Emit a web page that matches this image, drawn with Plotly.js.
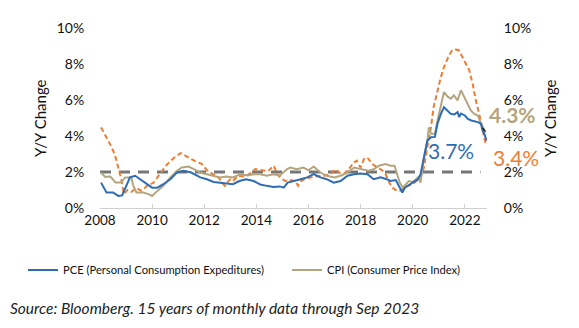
<!DOCTYPE html>
<html>
<head>
<meta charset="utf-8">
<script src="https://cdn.plot.ly/plotly-3.0.1.min.js"></script>
<style>html,body{margin:0;padding:0;background:#fff;}#chart{width:579px;height:328px;}</style>
</head>
<body>
<div id="chart"></div>
<script>
// PCE (blue)
var pceX = [2008.04,2008.25,2008.5,2008.7,2008.85,2008.97,2009.15,2009.35,2009.54,2009.8,2010.0,2010.2,2010.43,2010.7,2010.95,2011.2,2011.5,2011.85,2012.1,2012.36,2012.6,2012.85,2013.1,2013.35,2013.6,2013.9,2014.15,2014.4,2014.65,2014.9,2015.05,2015.2,2015.4,2015.7,2015.95,2016.2,2016.46,2016.7,2016.97,2017.23,2017.5,2017.75,2018.0,2018.26,2018.5,2018.77,2019.0,2019.15,2019.35,2019.47,2019.6,2019.7,2019.8,2020.0,2020.2,2020.3,2020.43,2020.56,2020.7,2020.85,2020.95,2021.08,2021.2,2021.33,2021.46,2021.6,2021.72,2021.78,2021.85,2022.0,2022.12,2022.25,2022.5,2022.62,2022.68,2022.75,2022.83];
var pceY = [1.41,0.86,0.86,0.67,0.7,1.13,1.7,1.79,1.6,1.32,1.13,1.13,1.32,1.6,1.97,2.07,1.97,1.7,1.6,1.45,1.41,1.35,1.32,1.5,1.6,1.5,1.3,1.23,1.17,1.2,1.13,1.41,1.5,1.6,1.7,1.88,1.7,1.6,1.41,1.5,1.79,1.88,1.92,1.88,1.6,1.7,1.6,1.5,1.55,1.23,0.86,1.13,1.23,1.41,1.6,1.88,2.8,3.74,3.93,3.95,4.68,5.23,5.6,5.42,5.23,5.2,5.33,5.05,5.25,5.14,4.95,4.86,4.77,4.68,4.3,4.12,3.74];
// CPI (tan)
var cpiX = [2008.04,2008.2,2008.4,2008.6,2008.8,2008.97,2009.2,2009.28,2009.4,2009.65,2009.86,2010.0,2010.2,2010.43,2010.7,2010.95,2011.14,2011.4,2011.6,2011.85,2012.1,2012.36,2012.6,2012.85,2013.1,2013.4,2013.65,2013.9,2014.15,2014.4,2014.65,2014.9,2015.18,2015.3,2015.55,2015.8,2016.0,2016.2,2016.46,2016.7,2017.0,2017.23,2017.5,2017.75,2018.0,2018.3,2018.5,2018.7,2018.96,2019.15,2019.3,2019.4,2019.5,2019.62,2019.72,2019.85,2020.0,2020.2,2020.3,2020.43,2020.56,2020.62,2020.7,2020.85,2020.95,2021.08,2021.2,2021.33,2021.46,2021.58,2021.72,2021.85,2022.0,2022.12,2022.23,2022.36,2022.5,2022.6,2022.72,2022.8];
var cpiY = [1.97,1.73,1.75,1.41,1.41,1.7,1.7,1.23,0.86,0.86,0.77,0.67,0.95,1.23,1.7,2.07,2.25,2.3,2.16,1.97,1.88,1.79,1.7,1.75,1.7,1.88,1.8,1.88,1.88,1.79,1.88,1.8,2.16,2.25,2.15,2.25,2.1,2.3,1.97,1.79,1.7,1.79,1.97,2.25,2.15,2.07,2.15,2.35,2.44,2.35,2.35,1.88,1.41,1.13,1.3,1.5,1.45,1.7,1.41,2.8,3.74,4.48,4.12,4.12,4.86,5.79,6.44,6.2,6.07,6.26,5.98,6.54,6.07,5.7,5.42,5.23,5.14,4.77,4.4,4.2];
// Orange dashed series
var orgX = [2008.04,2008.15,2008.3,2008.45,2008.58,2008.7,2008.8,2008.92,2009.05,2009.2,2009.4,2009.6,2009.8,2010.05,2010.3,2010.56,2010.85,2011.1,2011.4,2011.65,2011.9,2012.1,2012.36,2012.55,2012.74,2012.8,2012.9,2013.0,2013.1,2013.3,2013.55,2013.83,2013.96,2014.2,2014.45,2014.67,2014.8,2014.92,2015.1,2015.3,2015.5,2015.6,2015.72,2015.85,2016.08,2016.3,2016.6,2016.85,2017.04,2017.2,2017.35,2017.55,2017.74,2017.85,2018.0,2018.13,2018.26,2018.45,2018.65,2018.85,2018.96,2019.1,2019.22,2019.35,2019.5,2019.67,2019.85,2020.0,2020.3,2020.43,2020.56,2020.7,2020.8,2020.95,2021.08,2021.2,2021.4,2021.52,2021.65,2021.77,2021.9,2022.03,2022.17,2022.3,2022.42,2022.55,2022.68,2022.8];
var orgY = [4.48,4.2,3.74,3.37,2.9,2.3,1.7,0.78,1.0,0.9,1.1,0.95,1.23,1.4,1.9,2.4,2.8,3.05,2.8,2.6,2.45,2.1,1.85,1.7,1.32,1.23,1.45,1.6,1.5,1.79,1.75,1.97,2.16,2.1,2.05,2.35,1.88,1.7,1.5,1.55,1.5,1.23,1.5,1.6,1.7,1.75,1.79,1.88,2.16,1.95,1.88,2.16,2.53,2.63,2.25,2.72,2.8,2.44,2.25,2.07,1.88,1.41,1.13,1.0,0.95,1.13,1.25,1.32,1.7,2.25,3.37,4.48,5.6,6.54,7.28,7.84,8.5,8.77,8.8,8.77,8.4,8.03,7.65,6.9,5.98,5.23,4.3,3.56];
// 2% target line
var targetX = [2008.0, 2022.6];
var targetY = [2, 2];
// tick labels
var tickVals = [2008,2010,2012,2014,2016,2018,2020,2022];
var yTickVals = [0,2,4,6,8,10];
var yTickText = ['0%','2%','4%','6%','8%','10%'];
// end labels (latest readings)
var endLabelText = ['3.7%', '4.3%', '3.4%'];
var endLabelColor = ['#2E6DB4', '#B3A67F', '#ED7D31'];

var FONT = 'Lato, "Open Sans", sans-serif';

var traces = [
  {x:targetX, y:targetY, mode:'lines', line:{color:'#767676', width:3, dash:'11px,8px'}, showlegend:false, hoverinfo:'skip'},
  {x:orgX, y:orgY, mode:'lines', line:{color:'#ED7D31', width:2, dash:'5px,3px'}, showlegend:false},
  {x:cpiX, y:cpiY, mode:'lines', name:'CPI (Consumer Price Index)', legend:'legend2', line:{color:'#B3A67F', width:2}},
  {x:pceX, y:pceY, mode:'lines', name:'PCE (Personal Consumption Expeditures)', legend:'legend', line:{color:'#2E6DB4', width:2}},
  {x:[2022.85], y:[0], yaxis:'y2', mode:'markers', marker:{opacity:0}, showlegend:false, hoverinfo:'skip'}
];

var annotations = [
  {x:2021.45, y:3.2, xref:'x', yref:'y', text:endLabelText[0], showarrow:false,
   font:{family:FONT, size:21, color:endLabelColor[0]}},
  {x:1.067, y:0.517, xref:'paper', yref:'paper', xanchor:'center', yanchor:'middle', text:'<b>'+endLabelText[1]+'</b>', showarrow:false,
   font:{family:FONT, size:21, color:endLabelColor[1]}},
  {x:1.075, y:0.278, xref:'paper', yref:'paper', xanchor:'center', yanchor:'middle', text:endLabelText[2], showarrow:false,
   font:{family:FONT, size:21, color:endLabelColor[2]}},
  {xref:'paper', yref:'paper', x:0, y:0.5, xanchor:'center', yanchor:'middle', xshift:-60, text:'Y/Y Change', textangle:-90,
   showarrow:false, font:{family:FONT, size:15, color:'#111'}},
  {xref:'paper', yref:'paper', x:1, y:0.5, xanchor:'center', yanchor:'middle', xshift:63, text:'Y/Y Change', textangle:-90,
   showarrow:false, font:{family:FONT, size:15, color:'#111'}},
  {xref:'paper', yref:'paper', x:-0.2377, y:-0.556, xanchor:'left', yanchor:'middle',
   text:'<i>Source: Bloomberg. 15 years of monthly data through Sep 2023</i>', showarrow:false,
   font:{family:FONT, size:15.5, color:'#222'}}
];

var legendCommon = {orientation:'h', xref:'container', yref:'container', y:1-270/328, xanchor:'left', yanchor:'middle',
          font:{family:FONT, size:11.2, color:'#111'}, bgcolor:'rgba(0,0,0,0)'};

var layout = {
  width:579, height:328,
  margin:{l:100, r:92, t:28, b:120},
  paper_bgcolor:'#fff', plot_bgcolor:'#fff',
  showlegend:true,
  legend:Object.assign({}, legendCommon, {x:23/579}),
  legend2:Object.assign({}, legendCommon, {x:287/579}),
  xaxis:{range:[2008, 2022.85], tickvals:tickVals, ticktext:tickVals.map(String), showgrid:false, zeroline:false,
         showline:true, linecolor:'#D0D0D0', linewidth:1, ticks:'inside', ticklen:4, tickcolor:'#D0D0D0',
         tickfont:{family:FONT, size:13.5, color:'#111'}},
  yaxis:{range:[0,10], tickvals:yTickVals, ticktext:yTickText, showgrid:false, zeroline:false, showline:false,
         ticks:'outside', ticklen:12, tickcolor:'rgba(0,0,0,0)', tickfont:{family:FONT, size:14, color:'#111'}},
  yaxis2:{range:[0,10], overlaying:'y', side:'right', tickvals:yTickVals, ticktext:yTickText, showgrid:false,
         zeroline:false, showline:false, ticks:'outside', ticklen:13, tickcolor:'rgba(0,0,0,0)',
         tickfont:{family:FONT, size:14, color:'#111'}},
  shapes:[{type:'line', xref:'x', yref:'y', x0:2022.68, y0:4.45, x1:2022.78, y1:4.25, line:{color:'#000', width:1.2}}],
  annotations:annotations
};

Plotly.newPlot('chart', traces, layout, {displayModeBar:false, staticPlot:true});
</script>
</body>
</html>
